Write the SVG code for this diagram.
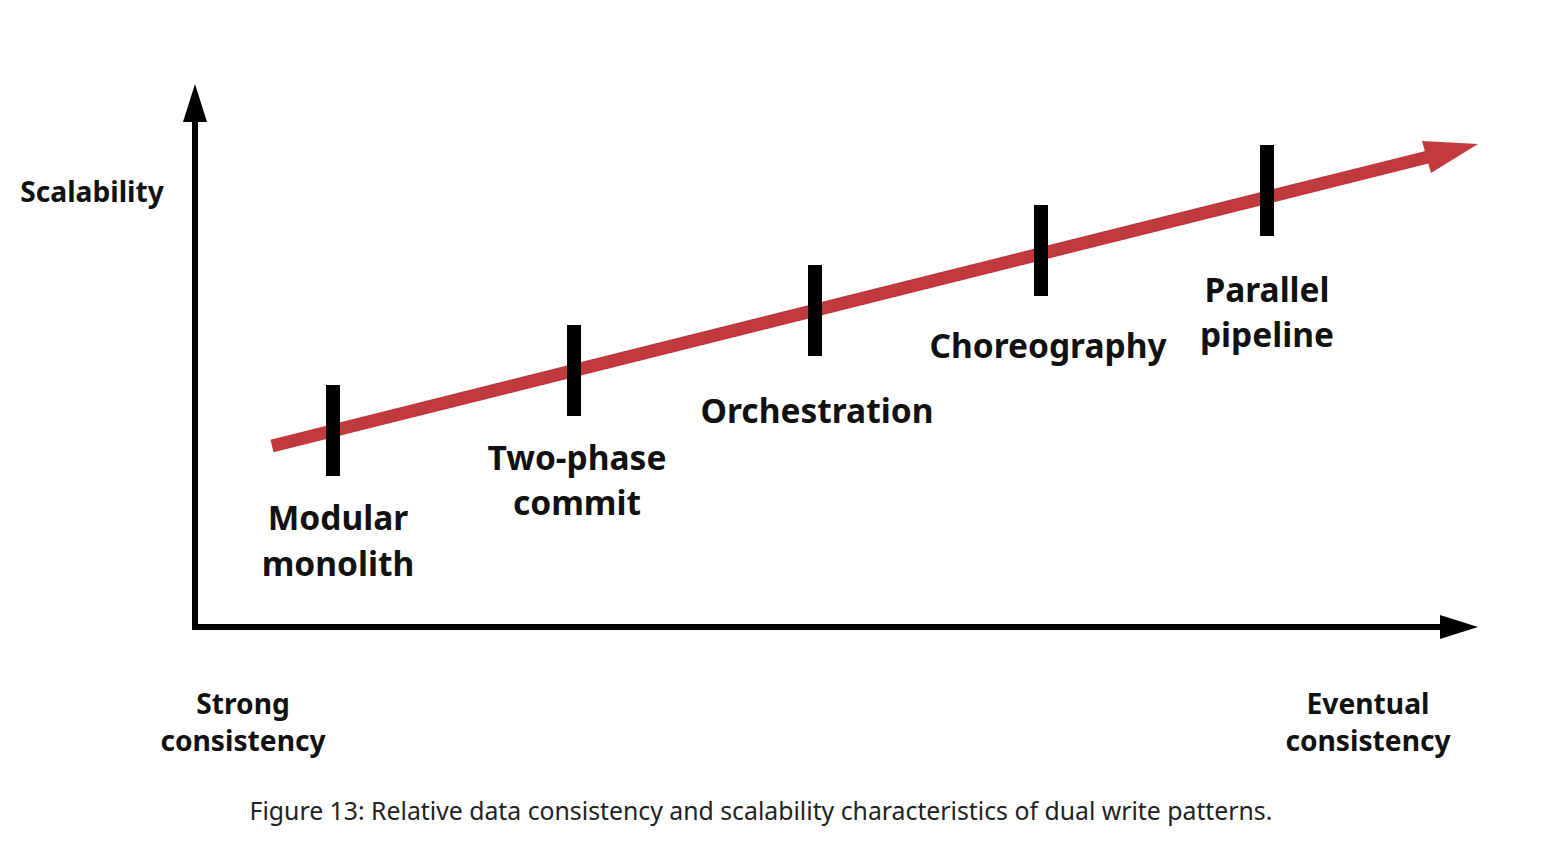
<svg xmlns="http://www.w3.org/2000/svg" width="1560" height="855" viewBox="0 0 1560 855">
<style>
.lbl{font-family:"Noto Sans","Liberation Sans",sans-serif;font-weight:bold;font-size:33.5px;fill:#111;text-anchor:middle}
.ax{font-family:"Noto Sans","Liberation Sans",sans-serif;font-weight:bold;font-size:28.2px;fill:#111;text-anchor:middle}
.cap{font-family:"Noto Sans","Liberation Sans",sans-serif;font-size:24.8px;fill:#222;text-anchor:middle}
.tick{fill:#000}
</style>
<rect width="1560" height="855" fill="#fff"/>
<g id="connectors">
<line x1="195" y1="628" x2="195" y2="118" stroke="#000" stroke-width="6"/>
<polygon points="195,84 207,122 183,122" fill="#000"/>
<line x1="192" y1="627" x2="1444" y2="627" stroke="#000" stroke-width="6"/>
<polygon points="1478,627 1440,615 1440,639" fill="#000"/>
<line x1="272" y1="446" x2="1436" y2="155" stroke="#c13b3c" stroke-width="13"/>
<polygon points="1478,144 1422,141 1431,173" fill="#c13b3c"/>
</g>
<g id="axis-y-label"><text class="ax" x="92" y="202">Scalability</text></g>
<g id="axis-x-left"><text class="ax" x="243" y="714">Strong</text><text class="ax" x="243" y="751">consistency</text></g>
<g id="axis-x-right"><text class="ax" x="1368" y="714">Eventual</text><text class="ax" x="1368" y="751">consistency</text></g>
<g id="modular-monolith"><rect class="tick" x="326" y="385" width="14" height="91"/><text class="lbl" x="338" y="530">Modular</text><text class="lbl" x="338" y="576">monolith</text></g>
<g id="two-phase-commit"><rect class="tick" x="567" y="325" width="14" height="91"/><text class="lbl" x="577" y="470">Two-phase</text><text class="lbl" x="577" y="515">commit</text></g>
<g id="orchestration"><rect class="tick" x="808" y="265" width="14" height="91"/><text class="lbl" x="817" y="423">Orchestration</text></g>
<g id="choreography"><rect class="tick" x="1034" y="205" width="14" height="91"/><text class="lbl" x="1048" y="358">Choreography</text></g>
<g id="parallel-pipeline"><rect class="tick" x="1260" y="145" width="14" height="91"/><text class="lbl" x="1267" y="302">Parallel</text><text class="lbl" x="1267" y="347">pipeline</text></g>
<text class="cap" x="761" y="820">Figure 13: Relative data consistency and scalability characteristics of dual write patterns.</text>
</svg>
